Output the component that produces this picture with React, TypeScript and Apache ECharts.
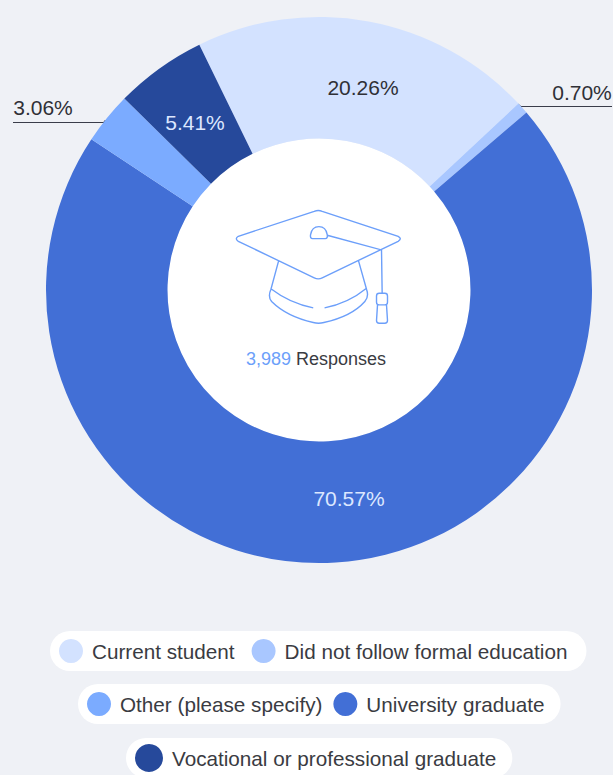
import React, { useEffect, useRef } from "react";
import * as echarts from "echarts";

const categories = [
  "Current student",
  "Did not follow formal education",
  "University graduate",
  "Other (please specify)",
  "Vocational or professional graduate",
];
const values = [20.26, 0.7, 70.57, 3.06, 5.41];
const colors = ["#D3E2FF", "#A9C7FF", "#426FD6", "#7BABFF", "#26499B"];
const labelColors = ["#2F3036", "#2F3036", "#DCE7FF", "#2F3036", "#DCE7FF"];
const labelSpots = [[363, 87], [582, 92], [349, 498], [43, 107], [195, 122]];
const legendRow1 = ["Current student", "Did not follow formal education"];
const legendRow2 = ["Other (please specify)", "University graduate"];
const legendRow3 = ["Vocational or professional graduate"];
const responses = "3,989";

const FONT = "Liberation Sans";
const BG = "#EFF1F6";
const HAT =
  "M283 64Q295 59 307 64L535 139Q548 147 535 154L307 264Q295 270 283 264L55 154Q43 147 55 139Z" +
  "M176 213L153 298Q143 320 155 335Q200 380 280 398Q296 402 312 398Q395 380 435 335Q448 320 440 298L416 213" +
  "M155 298Q210 340 280 354M314 354Q385 340 440 295" +
  "M278 146Q270 146 272 134Q276 110 297 110Q318 110 322 134Q324 146 316 146Z" +
  "M322 136L485 180L487 310" +
  "M478 310L495 310Q503 310 503 318L503 337Q503 345 495 345L478 345Q470 345 470 337L470 318Q470 310 478 310Z" +
  "M473 345L470 392Q470 400 478 400L495 400Q503 400 503 392L500 345";

echarts.graphic.registerShape("gradcap", echarts.graphic.extendPath(HAT, {}));

const legendBase = {
  orient: "horizontal",
  icon: "circle",
  itemStyle: { borderWidth: 0 },
  backgroundColor: "#FFFFFF",
  borderRadius: 20,
  selectedMode: false,
  textStyle: { fontFamily: FONT, fontSize: 20.7, color: "#3A3B42", padding: [0, 0, 0, 4] },
};

export default function App() {
  const ref = useRef<HTMLDivElement>(null);
  useEffect(() => {
    document.body.style.margin = "0";
    document.body.style.background = BG;
    const chart = echarts.init(ref.current!, undefined, { renderer: "svg" });
    chart.setOption({
      animation: false,
      backgroundColor: BG,
      legend: [
        { ...legendBase, data: legendRow1, left: 50, top: 631, padding: [8, 19, 8, 9], itemWidth: 24, itemHeight: 24, itemGap: 17 },
        { ...legendBase, data: legendRow2, left: 78, top: 684, padding: [8, 16, 8, 9], itemWidth: 24, itemHeight: 24, itemGap: 11 },
        { ...legendBase, data: legendRow3, left: 126, top: 738, padding: [6, 16, 6, 9], itemWidth: 28, itemHeight: 28 },
      ],
      series: [
        {
          type: "pie",
          silent: true,
          center: [319, 290],
          radius: [151.5, 273],
          startAngle: 116,
          avoidLabelOverlap: false,
          itemStyle: { borderWidth: 0 },
          labelLine: { show: false },
          label: {
            show: true,
            position: "inside",
            fontFamily: FONT,
            fontSize: 21,
            formatter: (p: any) => `${p.value.toFixed(2)}%`,
          },
          labelLayout: (p: any) => ({
            x: labelSpots[p.dataIndex][0],
            y: labelSpots[p.dataIndex][1],
            align: "center",
            verticalAlign: "middle",
          }),
          data: categories.map((name, i) => ({
            name,
            value: values[i],
            itemStyle: { color: colors[i] },
            label: { color: labelColors[i] },
          })),
        },
      ],
      graphic: [
        { type: "circle", silent: true, shape: { cx: 319, cy: 290, r: 151.5 }, style: { fill: "#FFFFFF" } },
        { type: "gradcap", x: 220, y: 190, scaleX: 1 / 3, scaleY: 1 / 3, silent: true, style: { fill: "none", stroke: "#6C9FFA", lineWidth: 4.2 } },
        {
          type: "text",
          x: 316,
          y: 359,
          silent: true,
          style: {
            text: `{a|${responses}} {b|Responses}`,
            align: "center",
            verticalAlign: "middle",
            fontFamily: FONT,
            fontSize: 18,
            rich: {
              a: { fontFamily: FONT, fontSize: 18, fill: "#6C9FFA" },
              b: { fontFamily: FONT, fontSize: 18, fill: "#3A3B42" },
            },
          },
        },
        { type: "line", silent: true, shape: { x1: 13, y1: 122.5, x2: 106, y2: 122.5 }, style: { stroke: "#3A3D4A", lineWidth: 1 } },
        { type: "circle", silent: true, shape: { cx: 106, cy: 122.5, r: 2.5 }, style: { fill: "#3A3D4A" } },
        { type: "polyline", silent: true, shape: { points: [[612, 106.5], [521, 106.5], [518, 104]] }, style: { stroke: "#3A3D4A", lineWidth: 1, fill: "none" } },
      ],
    });
    return () => chart.dispose();
  }, []);
  return <div ref={ref} style={{ position: "fixed", left: 0, top: 0, width: 613, height: 775 }} />;
}
